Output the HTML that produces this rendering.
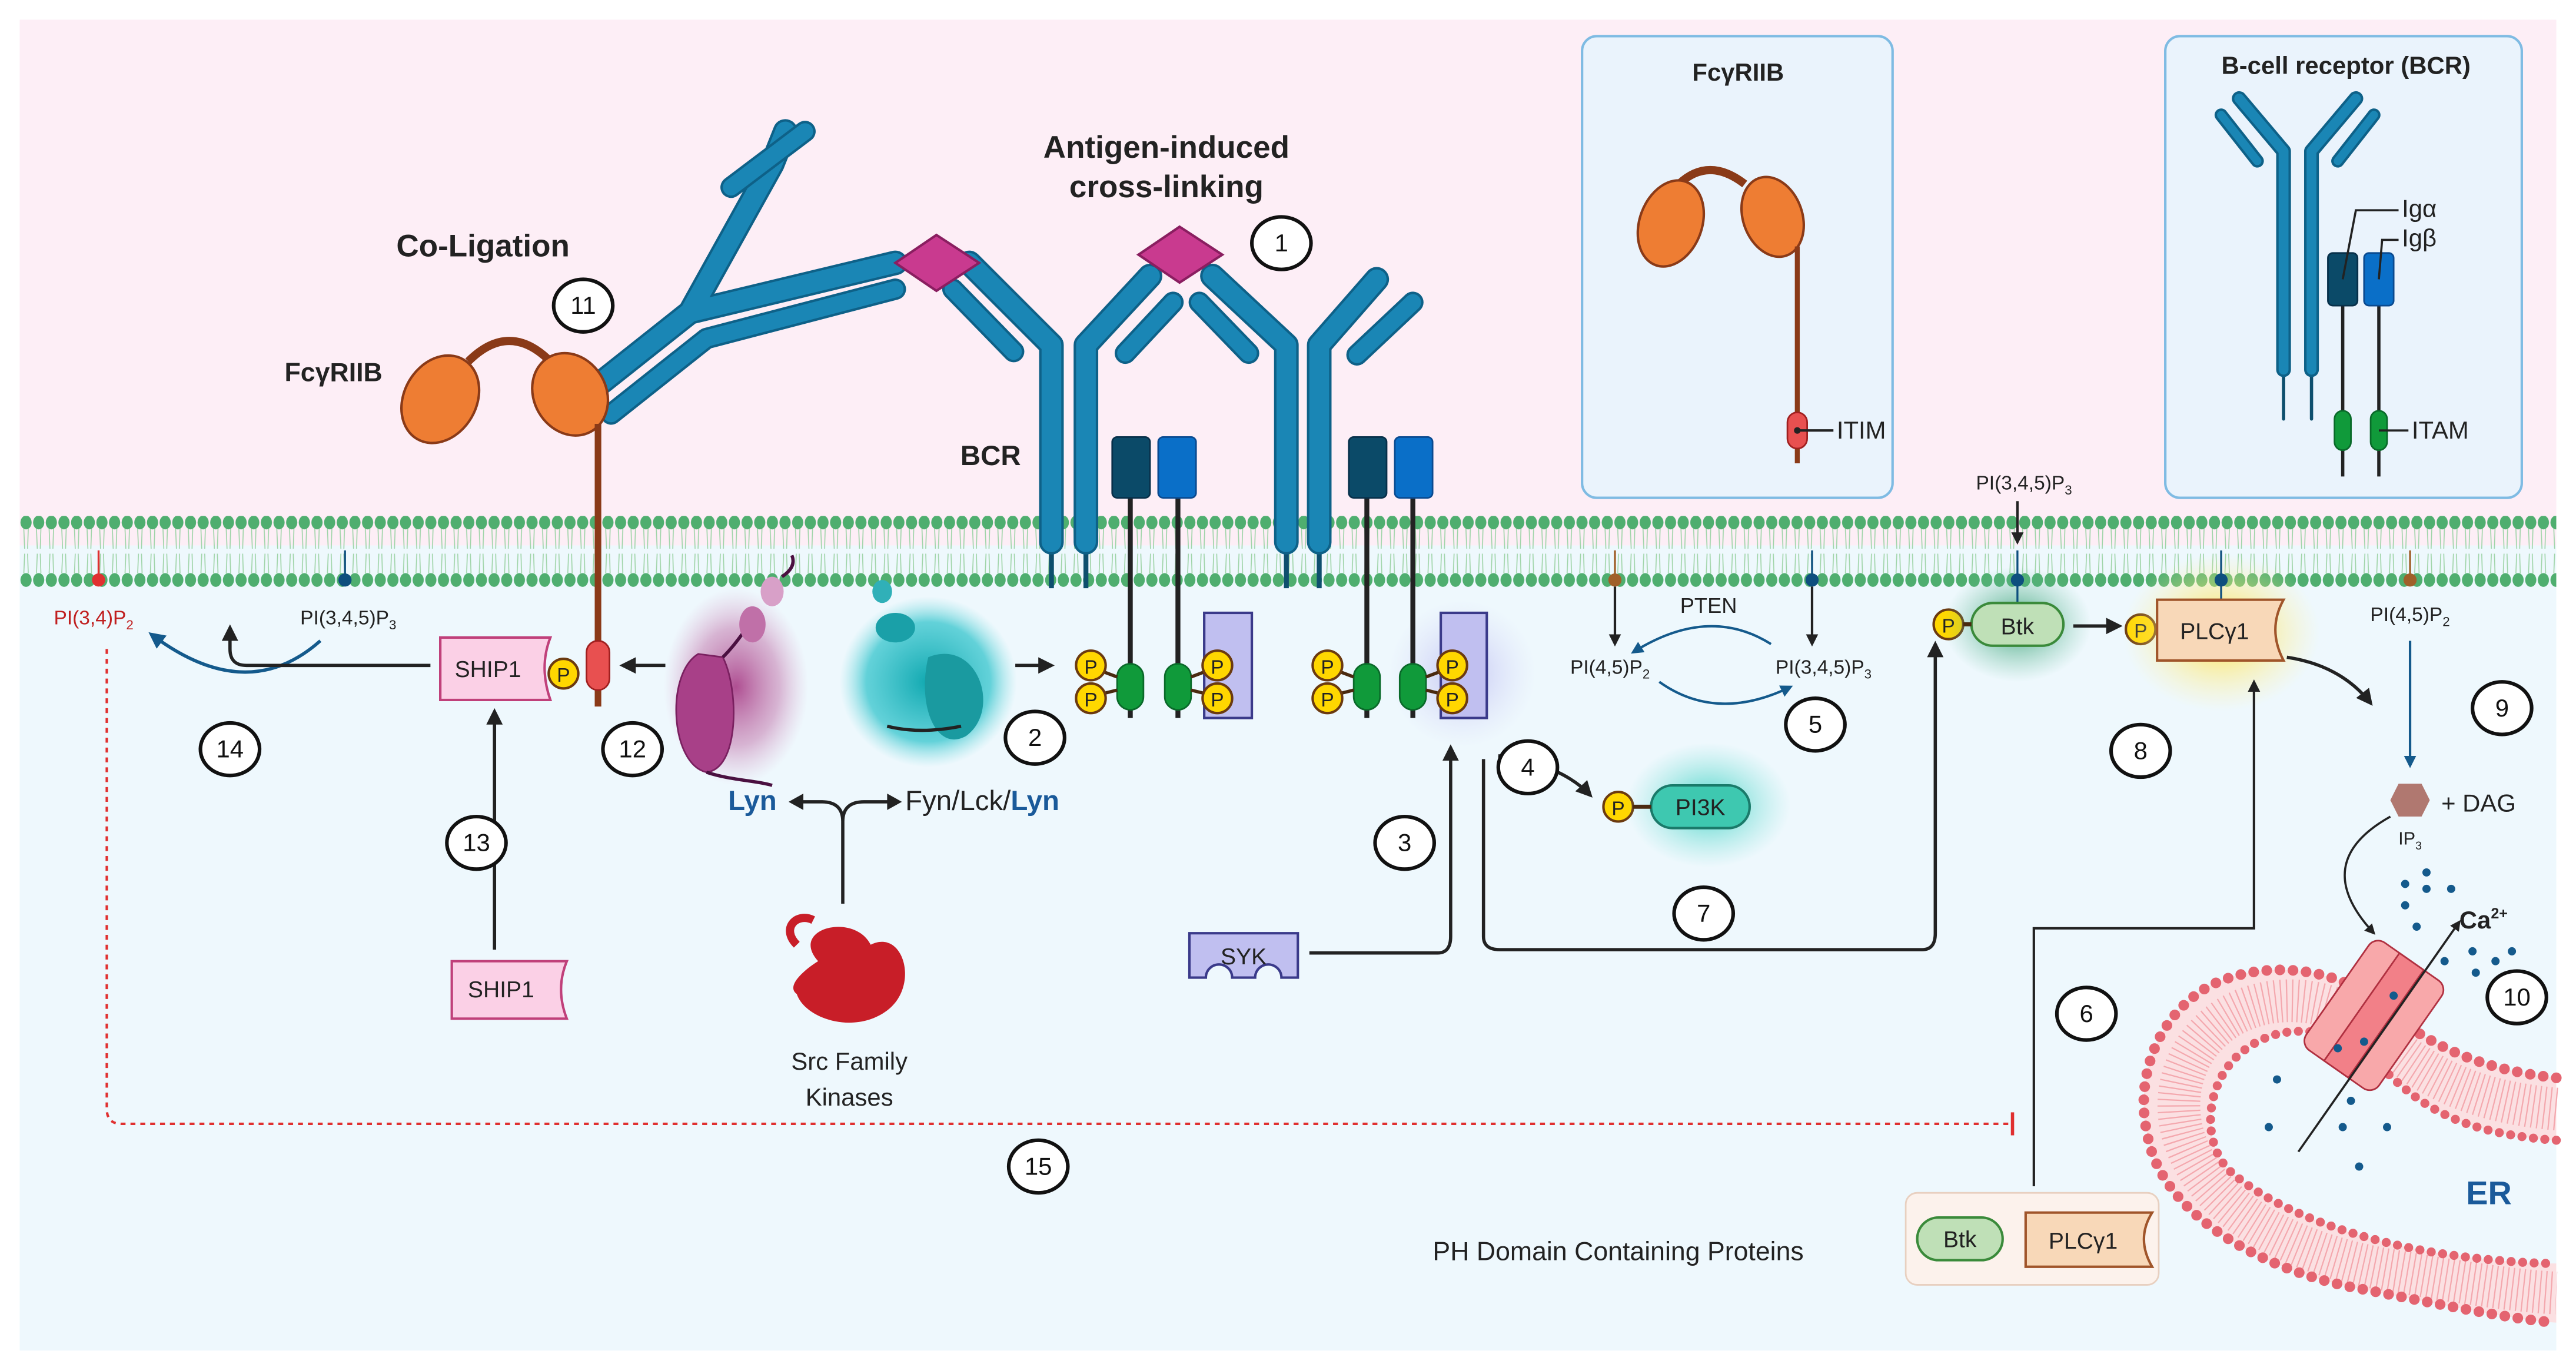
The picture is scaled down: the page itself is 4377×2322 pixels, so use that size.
<!DOCTYPE html>
<html><head><meta charset="utf-8"><style>html,body{margin:0;padding:0;background:#fff}svg{display:block}text{font-family:"Liberation Sans",sans-serif}</style></head><body>
<svg width="4377" height="2322" viewBox="0 0 1568 832" preserveAspectRatio="none" xmlns="http://www.w3.org/2000/svg">
<defs>
<pattern id="heads" x="12" y="0" width="7.7" height="832" patternUnits="userSpaceOnUse">
<ellipse cx="3.85" cy="318" rx="3.4" ry="4.2" fill="#4fae6f"/>
<ellipse cx="3.85" cy="353" rx="3.4" ry="4.2" fill="#4fae6f"/>
<path d="M2.5,322 L3,334 M5.2,322 L4.8,334 M2.5,349 L3,337 M5.2,349 L4.8,337" stroke="#9fd4a8" stroke-width="0.6"/>
</pattern>
<marker id="ah" viewBox="0 0 10 10" refX="8" refY="5" markerWidth="5" markerHeight="5" orient="auto"><path d="M0,0 L10,5 L0,10 z" fill="#222"/></marker>
<marker id="ahb" viewBox="0 0 10 10" refX="8" refY="5" markerWidth="5" markerHeight="5" orient="auto"><path d="M0,0 L10,5 L0,10 z" fill="#145a8c"/></marker>
<radialGradient id="gPur"><stop offset="0" stop-color="#a83c86" stop-opacity=".9"/><stop offset=".6" stop-color="#c070a8" stop-opacity=".5"/><stop offset="1" stop-color="#d9a0c8" stop-opacity="0"/></radialGradient>
<radialGradient id="gTeal"><stop offset="0" stop-color="#10a8b0"/><stop offset=".7" stop-color="#40c8d0" stop-opacity=".8"/><stop offset="1" stop-color="#8ee0e4" stop-opacity="0"/></radialGradient>
<radialGradient id="gVio"><stop offset="0" stop-color="#b8b8f0" stop-opacity=".8"/><stop offset="1" stop-color="#d8d8f8" stop-opacity="0"/></radialGradient>
<radialGradient id="gTq"><stop offset="0" stop-color="#30d0c0" stop-opacity=".9"/><stop offset="1" stop-color="#80e0d8" stop-opacity="0"/></radialGradient>
<radialGradient id="gGr"><stop offset="0" stop-color="#2a9a6a" stop-opacity=".9"/><stop offset="1" stop-color="#70c0a0" stop-opacity="0"/></radialGradient>
<radialGradient id="gYe"><stop offset="0" stop-color="#ffe040"/><stop offset="1" stop-color="#fff0a0" stop-opacity="0"/></radialGradient>
</defs>
<rect x="0" y="0" width="1568" height="832" fill="#fff"/>
<rect x="12" y="12" width="1544" height="320" fill="#fdeef6"/>
<rect x="12" y="332" width="1544" height="490" fill="#eef8fd"/>
<rect x="12" y="314" width="1544" height="44" fill="url(#heads)"/>

<!-- insets -->
<rect x="963" y="22" width="189" height="281" rx="9" fill="#eaf3fc" stroke="#7fbbe3" stroke-width="1.5"/>
<text x="1058" y="49" font-size="15" font-weight="bold" text-anchor="middle" fill="#222">FcγRIIB</text>
<path d="M1022,112 Q1040,95 1062,112" stroke="#8a3a18" stroke-width="5" fill="none"/>
<ellipse cx="1017" cy="136" rx="19" ry="27" transform="rotate(20 1017 136)" fill="#ee7d33" stroke="#8a3a18" stroke-width="1.5"/>
<ellipse cx="1079" cy="132" rx="18" ry="25" transform="rotate(-20 1079 132)" fill="#ee7d33" stroke="#8a3a18" stroke-width="1.5"/>
<line x1="1094" y1="150" x2="1094" y2="282" stroke="#8a3a18" stroke-width="3"/>
<rect x="1088" y="251" width="12" height="22" rx="6" fill="#e85050" stroke="#a02020"/>
<line x1="1094" y1="262" x2="1116" y2="262" stroke="#222" stroke-width="1.5"/><circle cx="1094" cy="262" r="2" fill="#222"/>
<text x="1118" y="267" font-size="15" fill="#222">ITIM</text>

<rect x="1318" y="22" width="217" height="281" rx="9" fill="#eaf3fc" stroke="#7fbbe3" stroke-width="1.5"/>
<text x="1428" y="45" font-size="15" font-weight="bold" text-anchor="middle" fill="#222">B-cell receptor (BCR)</text>
<g stroke-linecap="round" stroke-linejoin="round" fill="none">
<path d="M1390,255 V225 M1407,255 V225" stroke="#0e4f6e" stroke-width="2"/>
<path d="M1390,225 V92 L1363,60 M1407,225 V92 L1434,60" stroke="#0e6188" stroke-width="9"/>
<path d="M1390,225 V92 L1363,60 M1407,225 V92 L1434,60" stroke="#1a86b5" stroke-width="6"/>
<path d="M1374,98 L1352,70 M1423,98 L1445,70" stroke="#0e6188" stroke-width="8"/>
<path d="M1374,98 L1352,70 M1423,98 L1445,70" stroke="#1a86b5" stroke-width="5"/>
</g>
<line x1="1426" y1="180" x2="1426" y2="290" stroke="#222" stroke-width="2"/>
<line x1="1448" y1="180" x2="1448" y2="290" stroke="#222" stroke-width="2"/>
<rect x="1417" y="154" width="18" height="32" rx="3" fill="#0b4a68" stroke="#08304a"/>
<rect x="1439" y="154" width="18" height="32" rx="3" fill="#0a6fc8" stroke="#0a4a90"/>
<rect x="1421" y="250" width="10" height="24" rx="5" fill="#109a3a" stroke="#0a6a2a"/>
<rect x="1443" y="250" width="10" height="24" rx="5" fill="#109a3a" stroke="#0a6a2a"/>
<path d="M1426,170 L1434,128 H1460 M1448,170 L1450,146 H1460 M1448,262 H1466" stroke="#222" stroke-width="1.3" fill="none"/>
<text x="1462" y="132" font-size="15" fill="#222">Igα</text>
<text x="1462" y="150" font-size="15" fill="#222">Igβ</text>
<text x="1468" y="267" font-size="15" fill="#222">ITAM</text>

<!-- headings -->
<text x="710" y="96" font-size="19" font-weight="bold" text-anchor="middle" fill="#222">Antigen-induced</text>
<text x="710" y="120" font-size="19" font-weight="bold" text-anchor="middle" fill="#222">cross-linking</text>
<text x="294" y="156" font-size="19" font-weight="bold" text-anchor="middle" fill="#222">Co-Ligation</text>
<text x="203" y="232" font-size="16" font-weight="bold" text-anchor="middle" fill="#222">FcγRIIB</text>
<text x="603" y="283" font-size="17" font-weight="bold" text-anchor="middle" fill="#222">BCR</text>

<!-- antibodies -->
<g stroke="#0e4f6e" stroke-width="3"><path d="M640,330 V358 M661,330 V358 M783,330 V358 M803,330 V358"/></g>
<g stroke-linecap="round" stroke-linejoin="round" fill="none">
<path d="M640,330 V210 L590,160 M661,330 V210 L700,168 M783,330 V210 L738,168 M803,330 V210 L838,170 M362,236 L420,190 L545,160 M420,190 L470,100 L478,80" stroke="#0e6188" stroke-width="15"/>
<path d="M640,330 V210 L590,160 M661,330 V210 L700,168 M783,330 V210 L738,168 M803,330 V210 L838,170 M362,236 L420,190 L545,160 M420,190 L470,100 L478,80" stroke="#1a86b5" stroke-width="12"/>
<path d="M617,214 L580,176 M685,215 L714,184 M760,215 L730,184 M826,216 L860,184 M372,252 L430,206 L545,176 M445,114 L490,80" stroke="#0e6188" stroke-width="13"/>
<path d="M617,214 L580,176 M685,215 L714,184 M760,215 L730,184 M826,216 L860,184 M372,252 L430,206 L545,176 M445,114 L490,80" stroke="#1a86b5" stroke-width="10"/>
</g>
<path d="M545,160 L570,143 L596,160 L570,177 Z" fill="#c93a8f" stroke="#8a1e60" stroke-width="1.5"/>
<path d="M693,155 L718,138 L744,155 L718,172 Z" fill="#c93a8f" stroke="#8a1e60" stroke-width="1.5"/>

<!-- FcgRIIB main -->
<path d="M285,220 Q310,195 335,220" stroke="#8a3a18" stroke-width="5" fill="none"/>
<ellipse cx="268" cy="243" rx="22" ry="28" transform="rotate(30 268 243)" fill="#ee7d33" stroke="#8a3a18" stroke-width="1.5"/>
<ellipse cx="347" cy="240" rx="22" ry="26" transform="rotate(-30 347 240)" fill="#ee7d33" stroke="#8a3a18" stroke-width="1.5"/>
<line x1="364" y1="258" x2="364" y2="430" stroke="#8a3a18" stroke-width="4"/>
<rect x="357" y="390" width="14" height="30" rx="7" fill="#e85050" stroke="#a02020"/>

<!-- lipids left -->
<line x1="60" y1="335" x2="60" y2="352" stroke="#e03030" stroke-width="1.2"/><circle cx="60" cy="353" r="4" fill="#e03030"/>
<line x1="210" y1="335" x2="210" y2="352" stroke="#0e4f7e" stroke-width="1.2"/><circle cx="210" cy="353" r="4" fill="#0e4f7e"/>
<text x="57" y="380" font-size="12" fill="#c02020" text-anchor="middle">PI(3,4)P<tspan font-size="8" dy="3">2</tspan></text>
<text x="212" y="380" font-size="12" fill="#222" text-anchor="middle">PI(3,4,5)P<tspan font-size="8" dy="3">3</tspan></text>
<path d="M195,390 Q150,430 92,386" stroke="#145a8c" stroke-width="2" fill="none" marker-end="url(#ahb)"/>
<path d="M262,405 H150 Q140,405 140,395 V382" stroke="#222" stroke-width="2" fill="none" marker-end="url(#ah)"/>

<!-- SHIP1 -->
<path d="M268,388 H335 Q328,406 335,426 H268 Z" fill="#fbd0e6" stroke="#c0407a" stroke-width="1.5"/>
<text x="297" y="412" font-size="14" text-anchor="middle" fill="#222">SHIP1</text>
<circle cx="343" cy="410" r="9" fill="#ffd700" stroke="#6b3a10" stroke-width="1.5"/><text x="343" y="415" font-size="12" text-anchor="middle" fill="#222">P</text>
<path d="M275,585 H345 Q338,602 345,620 H275 Z" fill="#fbd0e6" stroke="#c0407a" stroke-width="1.5"/>
<text x="305" y="607" font-size="14" text-anchor="middle" fill="#222">SHIP1</text>
<line x1="301" y1="578" x2="301" y2="433" stroke="#222" stroke-width="2" marker-end="url(#ah)"/>
<line x1="405" y1="405" x2="379" y2="405" stroke="#222" stroke-width="2" marker-end="url(#ah)"/>

<!-- Lyn / Fyn -->
<ellipse cx="448" cy="418" rx="44" ry="60" fill="url(#gPur)"/>
<path d="M425,398 C405,410 408,465 430,470 C450,468 450,420 440,400 Z" fill="#a84088" stroke="#7a2060" stroke-width="1"/>
<path d="M440,400 C448,392 452,385 458,378 M430,470 C445,475 460,475 470,478" stroke="#4a1040" stroke-width="2" fill="none"/>
<ellipse cx="458" cy="380" rx="8" ry="11" fill="#c070a8"/><ellipse cx="470" cy="360" rx="7" ry="9" fill="#d8a0c8"/>
<path d="M476,351 Q485,345 482,338" stroke="#4a1040" stroke-width="2" fill="none"/>
<ellipse cx="565" cy="415" rx="54" ry="52" fill="url(#gTeal)"/>
<path d="M565,400 C595,388 610,432 588,448 C570,458 558,430 565,400 Z" fill="#1a9aa0"/>
<ellipse cx="545" cy="382" rx="12" ry="9" fill="#1aa0a8"/><ellipse cx="537" cy="360" rx="6" ry="7" fill="#30b0b8"/>
<path d="M540,442 Q560,447 585,442" stroke="#222" stroke-width="2" fill="none"/>
<line x1="618" y1="405" x2="640" y2="405" stroke="#222" stroke-width="2" marker-end="url(#ah)"/>

<!-- ITAM chains -->
<ellipse cx="890" cy="410" rx="45" ry="45" fill="url(#gVio)"/>
<g stroke="#222" stroke-width="3"><line x1="688" y1="300" x2="688" y2="437"/><line x1="717" y1="300" x2="717" y2="437"/><line x1="832" y1="300" x2="832" y2="437"/><line x1="860" y1="300" x2="860" y2="437"/></g>
<rect x="677" y="266" width="23" height="37" rx="3" fill="#0b4a68" stroke="#08304a"/>
<rect x="705" y="266" width="23" height="37" rx="3" fill="#0a6fc8" stroke="#0a4a90"/>
<rect x="821" y="266" width="23" height="37" rx="3" fill="#0b4a68" stroke="#08304a"/>
<rect x="849" y="266" width="23" height="37" rx="3" fill="#0a6fc8" stroke="#0a4a90"/>
<rect x="733" y="373" width="29" height="64" fill="#c0bff0" stroke="#3a3a8a" stroke-width="1.5"/>
<rect x="877" y="373" width="28" height="64" fill="#c0bff0" stroke="#3a3a8a" stroke-width="1.5"/>
<g fill="#109a3a" stroke="#0a6a2a"><rect x="680" y="404" width="16" height="28" rx="8"/><rect x="709" y="404" width="16" height="28" rx="8"/><rect x="824" y="404" width="16" height="28" rx="8"/><rect x="852" y="404" width="16" height="28" rx="8"/></g>
<g stroke="#4a2a10" stroke-width="2"><path d="M664,406 L680,412 M664,424 L680,420 M741,406 L725,412 M741,424 L725,420 M808,406 L824,412 M808,424 L824,420 M884,406 L868,412 M884,424 L868,420"/></g>
<g fill="#ffd700" stroke="#6b3a10" stroke-width="1.5">
<circle cx="664" cy="405" r="9"/><circle cx="664" cy="425" r="9"/><circle cx="741" cy="405" r="9"/><circle cx="741" cy="425" r="9"/>
<circle cx="808" cy="405" r="9"/><circle cx="808" cy="425" r="9"/><circle cx="884" cy="405" r="9"/><circle cx="884" cy="425" r="9"/>
<circle cx="985" cy="491" r="9"/><circle cx="1186" cy="380" r="9"/><circle cx="1303" cy="383" r="9"/></g>
<g font-size="12" text-anchor="middle" fill="#222">
<text x="664" y="410">P</text><text x="664" y="430">P</text><text x="741" y="410">P</text><text x="741" y="430">P</text>
<text x="808" y="410">P</text><text x="808" y="430">P</text><text x="884" y="410">P</text><text x="884" y="430">P</text>
<text x="985" y="496">P</text><text x="1186" y="385">P</text><text x="1303" y="388">P</text></g>

<!-- Lyn labels + Src -->
<text x="458" y="493" font-size="17" font-weight="bold" text-anchor="middle" fill="#1a5a9a">Lyn</text>
<text x="551" y="493" font-size="17" fill="#222">Fyn/Lck/<tspan font-weight="bold" fill="#1a5a9a">Lyn</tspan></text>
<path d="M513,550 V500 Q513,488 500,488 H488 M513,500 Q513,488 526,488 H543" stroke="#222" stroke-width="2" fill="none"/>
<path d="M480,488 l9,-5 v10 z M549,488 l-9,-5 v10 z" fill="#222"/>
<path d="M498,585 C480,565 520,555 530,575 C550,565 560,600 540,615 C520,630 490,620 485,605 C478,600 490,590 498,585 Z" fill="#c81e28"/>
<path d="M485,575 C475,565 485,555 495,560" stroke="#c81e28" stroke-width="5" fill="none"/>
<text x="517" y="651" font-size="15" text-anchor="middle" fill="#222">Src Family</text>
<text x="517" y="673" font-size="15" text-anchor="middle" fill="#222">Kinases</text>

<!-- SYK -->
<path d="M724,568 H790 V595 H780 A8,8 0 0 0 764,595 H750 A8,8 0 0 0 734,595 H724 Z" fill="#c0bff0" stroke="#3a3a8a" stroke-width="1.5"/>
<text x="757" y="587" font-size="14" text-anchor="middle" fill="#222">SYK</text>
<path d="M797,580 H875 Q883,580 883,570 V455" stroke="#222" stroke-width="2" fill="none" marker-end="url(#ah)"/>
<path d="M903,462 V570 Q903,578 913,578 H1170 Q1178,578 1178,568 V392" stroke="#222" stroke-width="2" fill="none" marker-end="url(#ah)"/>
<path d="M912,460 Q950,465 968,484" stroke="#222" stroke-width="2" fill="none" marker-end="url(#ah)"/>

<!-- PI3K / PTEN -->
<ellipse cx="1040" cy="490" rx="50" ry="38" fill="url(#gTq)"/>
<rect x="1005" y="478" width="60" height="26" rx="13" fill="#3ec8b0" stroke="#1a7a6a" stroke-width="1.5"/>
<line x1="994" y1="491" x2="1005" y2="491" stroke="#4a2a10" stroke-width="2.5"/>
<text x="1035" y="496" font-size="14" text-anchor="middle" fill="#222">PI3K</text>
<line x1="983" y1="335" x2="983" y2="352" stroke="#a0602a" stroke-width="1.2"/><circle cx="983" cy="353" r="4" fill="#a0602a"/>
<line x1="1103" y1="335" x2="1103" y2="352" stroke="#0e4f7e" stroke-width="1.2"/><circle cx="1103" cy="353" r="4" fill="#0e4f7e"/>
<line x1="983" y1="357" x2="983" y2="392" stroke="#222" stroke-width="1.5" marker-end="url(#ah)"/>
<line x1="1103" y1="357" x2="1103" y2="392" stroke="#222" stroke-width="1.5" marker-end="url(#ah)"/>
<text x="1040" y="373" font-size="13" text-anchor="middle" fill="#222">PTEN</text>
<path d="M1078,392 Q1040,368 994,397" stroke="#145a8c" stroke-width="1.5" fill="none" marker-end="url(#ahb)"/>
<path d="M1010,415 Q1045,440 1090,418" stroke="#145a8c" stroke-width="1.5" fill="none" marker-end="url(#ahb)"/>
<text x="980" y="410" font-size="12" text-anchor="middle" fill="#222">PI(4,5)P<tspan font-size="8" dy="3">2</tspan></text>
<text x="1110" y="410" font-size="12" text-anchor="middle" fill="#222">PI(3,4,5)P<tspan font-size="8" dy="3">3</tspan></text>

<!-- Btk / PLC -->
<ellipse cx="1228" cy="380" rx="45" ry="35" fill="url(#gGr)"/>
<text x="1232" y="298" font-size="12" text-anchor="middle" fill="#222">PI(3,4,5)P<tspan font-size="8" dy="3">3</tspan></text>
<line x1="1228" y1="305" x2="1228" y2="330" stroke="#222" stroke-width="1.5" marker-end="url(#ah)"/>
<line x1="1228" y1="335" x2="1228" y2="368" stroke="#0e4f7e" stroke-width="1.2"/><circle cx="1228" cy="353" r="4" fill="#0e4f7e"/>
<rect x="1200" y="367" width="56" height="26" rx="13" fill="#bfe0b7" stroke="#3a8a3a" stroke-width="1.5"/>
<line x1="1195" y1="380" x2="1200" y2="380" stroke="#4a2a10" stroke-width="2.5"/>
<text x="1228" y="386" font-size="14" text-anchor="middle" fill="#222">Btk</text>
<line x1="1262" y1="381" x2="1290" y2="381" stroke="#222" stroke-width="2" marker-end="url(#ah)"/>
<ellipse cx="1352" cy="385" rx="60" ry="48" fill="url(#gYe)"/>
<line x1="1352" y1="335" x2="1352" y2="366" stroke="#0e4f7e" stroke-width="1.2"/><circle cx="1352" cy="353" r="4" fill="#0e4f7e"/>
<path d="M1313,365 H1390 Q1380,383 1390,402 H1313 Z" fill="#f8d8b8" stroke="#a0552a" stroke-width="1.5"/>
<text x="1348" y="389" font-size="14" text-anchor="middle" fill="#222">PLCγ1</text>
<path d="M1392,400 Q1425,405 1443,428" stroke="#222" stroke-width="2" fill="none" marker-end="url(#ah)"/>
<line x1="1467" y1="335" x2="1467" y2="352" stroke="#a0602a" stroke-width="1.2"/><circle cx="1467" cy="353" r="4" fill="#a0602a"/>
<text x="1467" y="378" font-size="12" text-anchor="middle" fill="#222">PI(4,5)P<tspan font-size="8" dy="3">2</tspan></text>
<line x1="1467" y1="390" x2="1467" y2="466" stroke="#145a8c" stroke-width="1.5" marker-end="url(#ahb)"/>
<path d="M1460,477 H1474 L1479,487 L1474,497 H1460 L1455,487 Z" fill="#b07870"/>
<text x="1486" y="494" font-size="15" fill="#222">+ DAG</text>
<text x="1467" y="514" font-size="11" text-anchor="middle" fill="#222">IP<tspan font-size="7" dy="3">3</tspan></text>
<path d="M1455,497 Q1405,525 1445,568" stroke="#222" stroke-width="1.3" fill="none" marker-end="url(#ah)"/>
<path d="M1238,722 V565 H1372 V415" stroke="#222" stroke-width="1.5" fill="none" marker-end="url(#ah)"/>

<!-- ER (horseshoe) -->
<path d="M1556,656 C1500,650 1470,630 1440,605 C1415,588 1375,585 1345,600 C1310,620 1300,660 1307,690 C1315,740 1380,775 1440,785 C1490,795 1530,803 1556,805 L1556,769 C1540,769 1510,767 1480,762 C1440,755 1390,740 1360,715 C1340,700 1340,660 1365,640 C1390,620 1425,625 1450,650 C1475,675 1500,690 1556,694 Z" fill="#fbe0e2"/>
<path d="M1556,675 C1500,670 1472,652 1445,628 C1420,606 1382,603 1355,620 C1325,640 1320,675 1333,702 C1350,740 1400,765 1460,774 C1500,781 1535,786 1556,787" stroke="#f4a8ae" stroke-width="26" stroke-dasharray="0.8 2.6" fill="none"/>
<path d="M1556,656 C1500,650 1470,630 1440,605 C1415,588 1375,585 1345,600 C1310,620 1300,660 1307,690 C1315,740 1380,775 1440,785 C1490,795 1530,803 1556,805" stroke="#e46470" stroke-width="6.5" stroke-dasharray="0 8" stroke-linecap="round" fill="none"/>
<path d="M1556,694 C1500,690 1475,675 1450,650 C1425,625 1390,620 1365,640 C1340,660 1340,700 1360,715 C1390,740 1440,755 1480,762 C1510,767 1540,769 1556,769" stroke="#e46470" stroke-width="5.5" stroke-dasharray="0 7" stroke-linecap="round" fill="none"/>
<g transform="rotate(35 1445 618)"><rect x="1418" y="578" width="54" height="80" rx="7" fill="#f8a8aa" stroke="#b03040"/><rect x="1436" y="578" width="18" height="80" fill="#f28088" stroke="#b03040"/></g>
<line x1="1399" y1="701" x2="1497" y2="561" stroke="#222" stroke-width="1.3" marker-end="url(#ah)"/>
<g fill="#145a8c"><circle cx="1477" cy="531" r="2.5"/><circle cx="1464" cy="538" r="2.5"/><circle cx="1477" cy="541" r="2.5"/><circle cx="1492" cy="541" r="2.5"/><circle cx="1464" cy="551" r="2.5"/><circle cx="1471" cy="564" r="2.5"/><circle cx="1505" cy="579" r="2.5"/><circle cx="1529" cy="579" r="2.5"/><circle cx="1488" cy="585" r="2.5"/><circle cx="1519" cy="585" r="2.5"/><circle cx="1507" cy="592" r="2.5"/><circle cx="1457" cy="606" r="2.5"/><circle cx="1423" cy="638" r="2.5"/><circle cx="1439" cy="634" r="2.5"/><circle cx="1386" cy="657" r="2.5"/><circle cx="1381" cy="686" r="2.5"/><circle cx="1431" cy="670" r="2.5"/><circle cx="1426" cy="686" r="2.5"/><circle cx="1453" cy="686" r="2.5"/><circle cx="1436" cy="710" r="2.5"/></g>
<text x="1497" y="565" font-size="15" font-weight="bold" fill="#222">Ca<tspan font-size="9" dy="-6">2+</tspan></text>
<text x="1515" y="733" font-size="20" font-weight="bold" text-anchor="middle" fill="#1a5a9a">ER</text>

<!-- PH box -->
<rect x="1160" y="726" width="154" height="56" rx="7" fill="#fcf2ec" stroke="#e8d0c0"/>
<rect x="1167" y="741" width="52" height="26" rx="13" fill="#bfe0b7" stroke="#3a8a3a" stroke-width="1.5"/>
<text x="1193" y="759" font-size="14" text-anchor="middle" fill="#222">Btk</text>
<path d="M1233,738 H1310 Q1300,754 1310,771 H1233 Z" fill="#f8d8b8" stroke="#a0552a" stroke-width="1.5"/>
<text x="1268" y="760" font-size="14" text-anchor="middle" fill="#222">PLCγ1</text>
<text x="985" y="767" font-size="16" text-anchor="middle" fill="#222">PH Domain Containing Proteins</text>

<!-- inhibition dotted -->
<path d="M65,395 V675 Q65,684 74,684 H1225" stroke="#e03030" stroke-width="1.5" stroke-dasharray="3 3" fill="none"/>
<line x1="1225" y1="677" x2="1225" y2="691" stroke="#e03030" stroke-width="2"/>

<!-- numbers -->
<g fill="#fff" stroke="#111" stroke-width="2.2">
<ellipse cx="780" cy="148" rx="18" ry="16"/><ellipse cx="355" cy="186" rx="18" ry="16"/><ellipse cx="630" cy="449" rx="18" ry="16"/>
<ellipse cx="385" cy="456" rx="18" ry="16"/><ellipse cx="140" cy="456" rx="18" ry="16"/><ellipse cx="290" cy="513" rx="18" ry="16"/>
<ellipse cx="855" cy="513" rx="18" ry="16"/><ellipse cx="930" cy="467" rx="18" ry="16"/><ellipse cx="1105" cy="441" rx="18" ry="16"/>
<ellipse cx="1037" cy="556" rx="18" ry="16"/><ellipse cx="1303" cy="457" rx="18" ry="16"/><ellipse cx="1523" cy="431" rx="18" ry="16"/>
<ellipse cx="1532" cy="607" rx="18" ry="16"/><ellipse cx="1270" cy="617" rx="18" ry="16"/><ellipse cx="632" cy="710" rx="18" ry="16"/></g>
<g font-size="15" text-anchor="middle" fill="#111">
<text x="780" y="153">1</text><text x="355" y="191">11</text><text x="630" y="454">2</text><text x="385" y="461">12</text><text x="140" y="461">14</text>
<text x="290" y="518">13</text><text x="855" y="518">3</text><text x="930" y="472">4</text><text x="1105" y="446">5</text><text x="1037" y="561">7</text>
<text x="1303" y="462">8</text><text x="1523" y="436">9</text><text x="1532" y="612">10</text><text x="1270" y="622">6</text><text x="632" y="715">15</text></g>
</svg>
</body></html>
